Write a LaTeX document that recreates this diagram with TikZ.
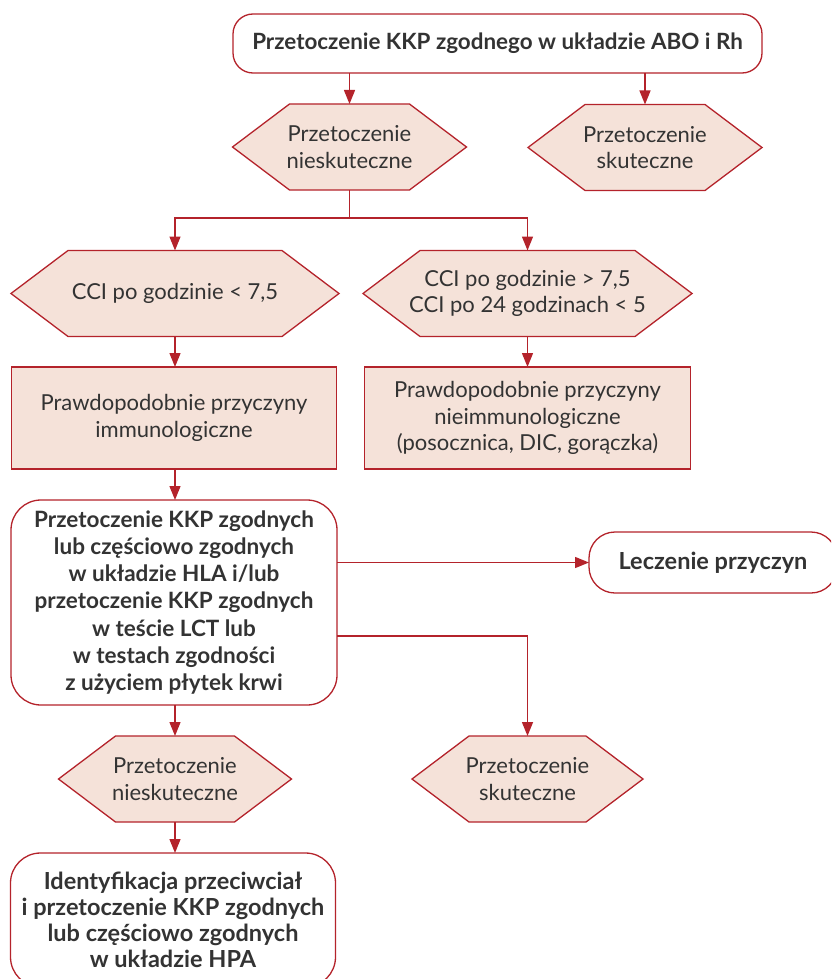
\documentclass[tikz,border=0pt]{standalone}
\usepackage{fontspec}
\setmainfont{Lato}
\usetikzlibrary{arrows.meta}
\definecolor{edge}{HTML}{B4232B}
\definecolor{pale}{HTML}{F5E2D9}
\definecolor{ink}{HTML}{333333}

\tikzset{
  x=1pt, y=-1pt,
  every node/.style={text=ink, align=center, inner sep=0pt, outer sep=0pt},
  regtext/.style={font=\fontsize{22}{26.5}\selectfont},
  boldtext/.style={font=\bfseries\fontsize{22.5}{27.3}\selectfont},
  bigbold/.style={font=\bfseries\fontsize{23.5}{26.2}\selectfont},
  titletext/.style={font=\bfseries\fontsize{22.4}{26}\selectfont},
  roundbox/.style={draw=edge, line width=1.3pt, fill=white, rounded corners=#1},
  roundbox/.default=28pt,
  palebox/.style={draw=edge, line width=1.3pt, fill=pale, regtext},
  hexline/.style={draw=edge, line width=1.3pt, fill=pale, line join=miter},
  link/.style={draw=edge, line width=1.4pt},
  arrow/.style={link, -{Triangle[length=14pt,width=11pt]}},
}

% hexagon: name, centre x, centre y, half width, half height, text
\newcommand{\hexbox}[6]{%
  \path[hexline] (#2-#4,#3) -- (#2-#4+57,#3-#5) -- (#2+#4-57,#3-#5)
     -- (#2+#4,#3) -- (#2+#4-57,#3+#5) -- (#2-#4+57,#3+#5) -- cycle;
  \node[regtext, minimum width=2*#4, minimum height=2*#5] (#1) at (#2,#3) {#6};
}

\begin{document}
\begin{tikzpicture}
\useasboundingbox (0,0) rectangle (831,979);
\clip (0,0) rectangle (831,979);

% top level
\node[roundbox=20pt, titletext, minimum width=529, minimum height=59] (top) at (497.5,43.5)
  {Przetoczenie KKP zgodnego w układzie ABO i Rh};

\hexbox{h1}{349.5}{147}{117}{43}{Przetoczenie\\nieskuteczne}
\hexbox{h2}{645}{147.5}{117}{43}{Przetoczenie\\skuteczne}

% CCI branches
\hexbox{h3}{175}{293.5}{164}{43}{CCI po godzinie < 7,5}
\hexbox{h4}{527.5}{293.5}{164.5}{43}{CCI po godzinie > 7,5\\CCI po 24 godzinach < 5}

\node[palebox, minimum width=325, minimum height=102] (r1) at (174,418)
  {Prawdopodobnie przyczyny\\immunologiczne};
\node[palebox, minimum width=326, minimum height=102] (r2) at (527.5,418)
  {Prawdopodobnie przyczyny\\nieimmunologiczne\\(posocznica, DIC, gorączka)};

% compatible transfusion
\node[roundbox=30pt, boldtext, minimum width=326, minimum height=205] (big) at (174,602.5)
  {Przetoczenie KKP zgodnych\\lub częściowo zgodnych\\w układzie HLA i/lub\\
   przetoczenie KKP zgodnych\\w teście LCT lub\\w testach zgodności\\z użyciem płytek krwi};
\node[roundbox=26pt, bigbold, minimum width=248, minimum height=61] (cure) at (713,562.5)
  {Leczenie przyczyn};

\hexbox{h5}{175}{779}{116.5}{43}{Przetoczenie\\nieskuteczne}
\hexbox{h6}{527.5}{779}{115.5}{43}{Przetoczenie\\skuteczne}

\node[roundbox=30pt, bigbold, minimum width=325, minimum height=134] (hpa) at (173,920)
  {Identyfikacja przeciwciał\\i przetoczenie KKP zgodnych\\lub częściowo zgodnych\\w układzie HPA};

% connectors
\draw[arrow] (top.south -| h1.north) -- (h1.north);
\draw[arrow] (top.south -| h2.north) -- (h2.north);

\coordinate (split) at (349.5,218);
\draw[link] (h1.south) -- (split);
\draw[arrow] (split) -| (h3.north);
\draw[arrow] (split) -| (h4.north);

\draw[arrow] (h3.south) -- (h3.south |- r1.north);
\draw[arrow] (h4.south) -- (h4.south |- r2.north);
\draw[arrow] (r1.south -| h3.south) -- (h3.south |- big.north);

\draw[arrow] (big.east |- cure.west) -- (cure.west);
\draw[arrow] ([yshift=-33.5pt]big.east) -| (h6.north);

\draw[arrow] (h3.south |- big.south) -- (h5.north);
\draw[arrow] (h5.south) -- (h5.south |- hpa.north);
\end{tikzpicture}
\end{document}
